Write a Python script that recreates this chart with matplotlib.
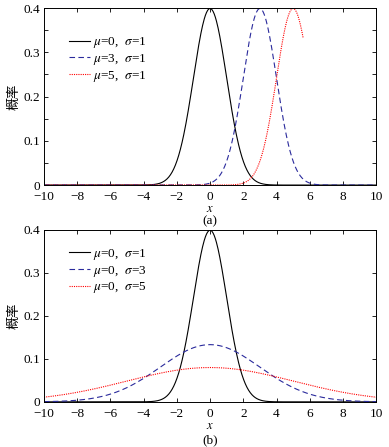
import numpy as np
import matplotlib
matplotlib.use('Agg')
import matplotlib.pyplot as plt
from matplotlib.ticker import MultipleLocator

plt.rcParams['font.family'] = ['Liberation Serif', 'Noto Sans CJK SC']
plt.rcParams['mathtext.fontset'] = 'stix'
plt.rcParams['font.size'] = 9.5

# curve parameters read from the legends
mu_a = [0, 3, 5]
sigma_a = [1, 1, 1]
xmax_a = [10, 10, 5.6]          # red dotted curve stops near x=5.6 in (a)
mu_b = [0, 0, 0]
sigma_b = [1, 3, 5]
xmax_b = [10, 10, 10]

colors = ['black', '#2a2a9c', 'red']
styles = ['-', (0, (5, 3)), (0, (1, 1))]


def pdf(x, mu, sigma):
    return np.exp(-(x - mu) ** 2 / (2 * sigma ** 2)) / (sigma * np.sqrt(2 * np.pi))


def draw(ax, mus, sigmas, xmaxs, minor_y, leg_y):
    for mu, s, xm, c, ls in zip(mus, sigmas, xmaxs, colors, styles):
        x = np.linspace(-10, xm, 600)
        ax.plot(x, pdf(x, mu, s), color=c, ls=ls, lw=0.8,
                label=rf'$\mu$={mu},  $\sigma$={s}')
    ax.set_xlim(-10, 10)
    ax.set_ylim(0, 0.4)
    ax.xaxis.set_major_locator(MultipleLocator(2))
    ax.yaxis.set_major_locator(MultipleLocator(0.1))
    if minor_y:
        ax.yaxis.set_minor_locator(MultipleLocator(0.05))
    ax.tick_params(which='both', direction='in', top=True, right=True,
                   length=3, width=0.6, pad=3, labelsize=9.5)
    ax.tick_params(axis='x', pad=4.5)
    ax.yaxis.set_major_formatter(plt.FuncFormatter(lambda v, p: '0' if v == 0 else f'{v:.1f}'))
    ax.xaxis.set_major_formatter(plt.FuncFormatter(lambda v, p: f'{v:.0f}'.replace('-', '\u2212')))
    for sp in ax.spines.values():
        sp.set_linewidth(0.7)
    ax.set_xlabel('$x$', labelpad=0, fontsize=9)
    ax.set_ylabel('概率', family=['Noto Sans CJK SC'], fontsize=9.5, labelpad=2)
    ax.legend(loc='upper left', bbox_to_anchor=(0.06, leg_y), frameon=False,
              handlelength=1.6, handletextpad=0.2, labelspacing=0.12, borderaxespad=0,
              fontsize=9.5)


fig = plt.figure(figsize=(3.89, 4.47), dpi=100)
ax1 = fig.add_axes([0.113, 0.586, 0.854, 0.396])
ax2 = fig.add_axes([0.113, 0.101, 0.854, 0.385])
draw(ax1, mu_a, sigma_a, xmax_a, True, 0.875)
draw(ax2, mu_b, sigma_b, xmax_b, False, 0.93)
fig.text(0.54, 1 - 221 / 447, '(a)', ha='center', va='center', fontsize=9.5)
fig.text(0.54, 1 - 440 / 447, '(b)', ha='center', va='center', fontsize=9.5)
fig.savefig('out.png', dpi=100)
